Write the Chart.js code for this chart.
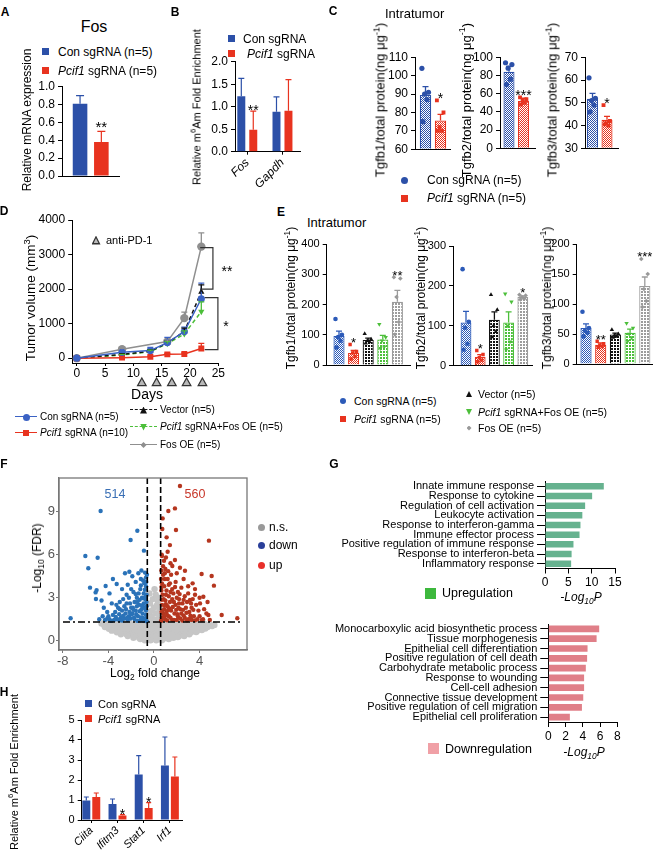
<!DOCTYPE html>
<html><head><meta charset="utf-8"><title>Figure</title>
<script src="https://cdn.jsdelivr.net/npm/chart.js@4.4.1/dist/chart.umd.min.js"></script>
<style>
html,body{margin:0;padding:0;background:#fff;overflow:hidden}
body{position:relative;width:653px;height:856px;font-family:"Liberation Sans",Arial,Helvetica,sans-serif}
canvas{position:absolute}
.t{position:absolute;white-space:nowrap;line-height:1;color:#000}
.s{position:absolute}
sup,sub{font-size:70%;line-height:0}
</style></head><body>
<script>
// ================= DATA =================
// A
const A_GROUPS = ['Con sgRNA (n=5)', 'Pcif1 sgRNA (n=5)'];
const A_GENE = ['Fos'];
const A_CON = [0.81], A_CON_SEM = [0.09];
const A_PCIF = [0.38], A_PCIF_SEM = [0.12];
const A_SIG = ['**'];
// B
const B_GENES = ['Fos', 'Gapdh'];
const B_CON = [1.23, 0.89], B_CON_SEM = [0.40, 0.33];
const B_PCIF = [0.49, 0.91], B_PCIF_SEM = [0.41, 0.69];
const B_SIG = ['**', ''];
// C
const C_GROUPS = ['Con sgRNA', 'Pcif1 sgRNA'];
const C1_MEAN = [89.5, 75.6], C1_SEM = [4.6, 3.4];
const C1_PTS = [[104, 91, 90, 87, 75], [86.6, 80, 72, 70, 70]];
const C1_SIG = ['', '*'];
const C2_MEAN = [84, 52], C2_SEM = [6, 3];
const C2_PTS = [[94, 92, 88, 76, 70], [56, 54, 52, 50, 48]];
const C2_SIG = ['', '***'];
const C3_MEAN = [51.8, 42.5], C3_SEM = [2.3, 1.5];
const C3_PTS = [[61, 52, 51, 49, 46], [49, 42, 41, 40, 40.5]];
const C3_SIG = ['', '*'];
// D
const D_DAYS = [0, 8, 13, 16, 19, 22];
const D_FOS_DAYS = [0, 8, 16, 19, 22];
const D_CON = [0, 170, 220, 450, 770, 1720], D_CON_SEM = [0, 30, 90, 150, 130, 450];
const D_PCIF = [0, 15, 40, 110, 120, 280], D_PCIF_SEM = [0, 5, 15, 25, 30, 150];
const D_VEC = [0, 110, 200, 440, 770, 1920], D_VEC_SEM = [0, 20, 40, 60, 100, 200];
const D_PFOS = [0, 90, 190, 420, 700, 1350], D_PFOS_SEM = [0, 20, 40, 60, 90, 280];
const D_FOS = [0, 260, 480, 1160, 3230], D_FOS_SEM = [0, 30, 40, 170, 400];
const PD1_DAYS = [11.5, 14.1, 16.8, 19.4, 22.2];
const D_XTICKS = [0, 5, 10, 15, 20, 25];
const D_YTICKS = [0, 1000, 2000, 3000, 4000];
const D_BRACKETS = [{from: 3200, to: 2000, label: '**'}, {from: 1750, to: 250, label: '*'}];
// E
const E_GROUPS = ['Con sgRNA (n=5)', 'Pcif1 sgRNA (n=5)', 'Vector (n=5)', 'Pcif1 sgRNA+Fos OE (n=5)', 'Fos OE (n=5)'];
const E1_MEAN = [96, 40, 83, 84, 209], E1_SEM = [16, 8, 6, 14, 38];
const E1_PTS = [[152, 100, 92, 80, 58], [68, 45, 40, 28, 20], [103, 85, 80, 76, 72], [135, 92, 80, 60, 55], [290, 286, 225, 142, 101]];
const E1_SIG = ['', '*', '', '', '**'];
const E2_MEAN = [108, 22, 115, 108, 172], E2_SEM = [28, 6, 20, 27, 3];
const E2_PTS = [[242, 110, 95, 55, 40], [38, 28, 20, 14, 10], [178, 140, 100, 85, 72], [180, 160, 100, 60, 40], [178, 176, 172, 168, 166]];
const E2_SIG = ['', '*', '', '', '*'];
const E3_MEAN = [60, 32, 49, 52, 130], E3_SEM = [7, 3, 2.5, 6, 15];
const E3_PTS = [[87, 60, 55, 52, 46], [38, 34, 31, 29, 28], [57, 50, 48, 46, 44], [68, 60, 50, 44, 38], [175, 150, 125, 105, 95]];
const E3_SIG = ['', '**', '', '', '***'];
// F (volcano; log2 fold change, -log10 FDR)
const F_COUNTS = [514, 560];
const F_FC_CUT = 0.585, F_P_CUT = 1.3;
const F_XTICKS = [-8, -4, 0, 4], F_YTICKS = [0, 3, 6, 9];
const F_UP = [[2.28,10.79],[1.26,9.05],[1.84,9.23],[0.76,8.53],[0.73,7.79],[1.93,7.72],[4.82,6.98],[1.11,7.21],[1.4,6.67],[0.7,5.91],[0.88,5.58],[1.84,5.63],[1.61,5.21],[2.28,5.09],[2.72,4.88],[4.18,4.65],[5.06,4.51],[5.26,3.84],[3.39,4.0],[4.33,3.07],[4.77,1.79],[5.94,1.79],[7.31,1.56],[4.04,2.6],[3.16,2.84],[0.65,4.9],[0.8,4.6],[1.0,5.0],[1.2,4.3],[1.5,4.6],[0.7,4.0],[0.9,3.8],[1.1,3.5],[1.3,3.9],[1.6,3.6],[1.9,4.1],[2.1,3.4],[2.4,3.7],[2.7,3.1],[3.0,3.3],[3.4,2.9],[3.7,2.5],[3.9,2.1],[4.4,2.2],[4.6,1.9],[3.5,1.7],[3.1,2.0],[2.8,2.3],[2.5,2.6],[2.2,2.9],[1.9,2.5],[1.6,2.9],[1.3,3.1],[1.0,2.8],[0.75,3.2],[0.7,2.5],[0.9,2.2],[1.2,2.4],[1.5,2.1],[1.8,1.9],[2.1,1.7],[2.4,1.9],[2.7,1.6],[3.0,1.5],[3.3,1.45],[3.8,1.5],[4.2,1.45],[0.7,1.6],[1.0,1.5],[1.3,1.7],[1.6,1.45],[2.0,1.45],[2.5,1.4],[0.8,1.9],[1.1,2.0],[2.9,2.7],[3.3,2.3],[0.65,3.5],[0.95,4.3],[1.4,4.0],[1.7,3.3],[2.0,3.0],[2.3,2.2],[0.85,2.9],[1.15,1.8],[3.6,3.2],[2.6,4.3],[0.68,6.0],[1.05,5.8],[1.2,6.2],[0.8,5.2],[1.45,5.4],[2.0,4.7],[3.0,3.8],[3.6,3.6],[4.0,3.0],[4.7,2.7],[3.2,1.75],[0.75,2.1],[1.05,2.55],[1.35,2.25],[1.75,2.7],[2.15,2.3],[0.68,1.45],
[0.62,1.38],[0.9,1.7],[1.15,1.42],[1.45,1.6],[1.75,1.45],[2.05,1.85],[2.3,1.55],[2.6,1.75],[2.9,1.42],[3.2,1.55],[3.6,1.42],[4.0,1.7],[4.3,1.5],[4.9,1.45],[0.66,2.0],[0.95,2.45],[1.25,2.15],[1.4,2.7],[1.65,2.35],[1.95,2.15],[2.2,2.6],[2.55,2.15],[2.85,1.95],[3.45,2.15],[0.7,2.85],[1.05,3.2],[1.45,3.4],[1.85,3.75],[2.25,3.25],[2.6,2.85],[3.25,2.6],[0.62,4.3],[0.95,4.7],[1.25,4.85],[0.66,3.75]];
const F_DOWN = [[-4.68,9.05],[-1.46,7.67],[-2.05,7.02],[-0.88,6.28],[-6.02,5.91],[-4.94,5.79],[-5.76,5.05],[-2.54,4.7],[-2.16,4.81],[-1.37,4.7],[-0.79,4.75],[-5.61,3.7],[-5.03,3.53],[-5.12,3.37],[-5.09,2.91],[-4.24,3.81],[-3.27,3.95],[-7.31,1.56],[-3.6,4.3],[-1.9,4.5],[-1.1,4.9],[-0.7,4.4],[-0.95,4.2],[-1.6,4.1],[-2.3,3.9],[-2.8,3.6],[-3.9,3.3],[-4.6,2.8],[-4.4,2.3],[-4.1,2.0],[-3.6,1.8],[-3.3,2.5],[-3.0,2.2],[-2.7,2.9],[-2.4,3.2],[-2.1,2.6],[-1.8,3.4],[-1.5,3.0],[-1.2,3.6],[-0.9,3.3],[-0.7,3.8],[-0.75,2.9],[-0.65,2.4],[-0.9,2.6],[-1.1,2.2],[-1.3,2.5],[-1.6,2.1],[-1.9,1.9],[-2.2,1.7],[-2.5,1.9],[-2.9,1.6],[-3.2,1.5],[-3.5,1.45],[-3.9,1.5],[-4.3,1.45],[-4.8,1.5],[-2.0,2.3],[-2.6,2.4],[-1.4,1.7],[-1.0,1.6],[-0.7,1.8],[-0.8,1.45],[-1.2,1.4],[-1.7,1.5],[-2.3,1.45],[-2.8,1.4],[-0.65,3.2],[-0.85,4.0],[-1.05,3.0],[-1.35,3.3],[-1.7,2.7],[-2.2,3.0],[-0.7,2.1],[-1.5,2.4],[-1.0,1.9],[-3.7,2.6],[-4.0,1.7],[-3.4,2.0],[-2.45,2.2],[-1.25,2.85],[-0.8,3.55],[-0.68,4.1],[-1.15,4.3],[-2.6,1.55],[-1.85,2.3],[-3.05,1.85],[-0.95,2.35],[-1.55,1.85],[-2.05,1.55],[-0.72,1.55],
[-0.62,1.35],[-0.9,1.38],[-1.15,1.62],[-1.45,1.38],[-1.75,1.62],[-2.0,1.85],[-2.35,1.6],[-2.7,1.75],[-3.0,1.42],[-3.35,1.65],[-3.75,1.38],[-4.1,1.55],[-4.5,1.7],[-0.78,2.25],[-1.05,2.45],[-1.25,2.05],[-1.45,2.7],[-1.8,2.15],[-2.15,2.0],[-2.4,2.6],[-2.8,2.1],[-3.15,2.3],[-0.66,2.7],[-0.9,2.95],[-1.6,3.25],[-2.0,3.6],[-0.75,3.05],[-1.15,3.85],[-0.62,4.6],[-3.0,2.7]];
const F_NS = [[-4.6,1.2],[-4.1,1.2],[-3.6,1.2],[-3.1,1.2],[-2.6,1.2],[-2.1,1.2],[-1.6,1.2],[-1.1,1.2],[-0.6,1.2],[-0.1,1.2],[0.4,1.2],[0.9,1.2],[1.4,1.2],[1.9,1.2],[2.4,1.2],[2.9,1.2],[3.4,1.2],[3.9,1.2],[4.4,1.2],[4.9,1.15],[5.3,1.1],
[-4.35,1.08],[-3.85,1.08],[-3.35,1.08],[-2.85,1.08],[-2.35,1.08],[-1.85,1.08],[-1.35,1.08],[-0.85,1.08],[-0.35,1.08],[0.15,1.08],[0.65,1.08],[1.15,1.08],[1.65,1.08],[2.15,1.08],[2.65,1.08],[3.15,1.08],[3.65,1.08],[4.15,1.08],[4.65,1.08],[5.1,1.02],
[-4.3,0.95],[-3.8,0.95],[-3.3,0.95],[-2.8,0.95],[-2.3,0.95],[-1.8,0.95],[-1.3,0.95],[-0.8,0.95],[-0.3,0.95],[0.2,0.95],[0.7,0.95],[1.2,0.95],[1.7,0.95],[2.2,0.95],[2.7,0.95],[3.2,0.95],[3.7,0.95],[4.2,0.95],[4.7,0.95],
[-3.95,0.83],[-3.45,0.83],[-2.95,0.83],[-2.45,0.83],[-1.95,0.83],[-1.45,0.83],[-0.95,0.83],[-0.45,0.83],[0.05,0.83],[0.55,0.83],[1.05,0.83],[1.55,0.83],[2.05,0.83],[2.55,0.83],[3.05,0.83],[3.55,0.83],[4.05,0.83],[4.5,0.85],
[-3.7,0.7],[-3.2,0.7],[-2.7,0.7],[-2.2,0.7],[-1.7,0.7],[-1.2,0.7],[-0.7,0.7],[-0.2,0.7],[0.3,0.7],[0.8,0.7],[1.3,0.7],[1.8,0.7],[2.3,0.7],[2.8,0.7],[3.3,0.7],[3.8,0.7],[4.2,0.75],
[-3.25,0.58],[-2.75,0.58],[-2.25,0.58],[-1.75,0.58],[-1.25,0.58],[-0.75,0.58],[-0.25,0.58],[0.25,0.58],[0.75,0.58],[1.25,0.58],[1.75,0.58],[2.25,0.58],[2.75,0.58],[3.25,0.58],[3.7,0.6],
[-2.9,0.45],[-2.4,0.45],[-1.9,0.45],[-1.4,0.45],[-0.9,0.45],[-0.4,0.45],[0.1,0.45],[0.6,0.45],[1.1,0.45],[1.6,0.45],[2.1,0.45],[2.6,0.45],[3.1,0.45],
[-2.3,0.33],[-1.8,0.33],[-1.3,0.33],[-0.8,0.33],[-0.3,0.33],[0.2,0.33],[0.7,0.33],[1.2,0.33],[1.7,0.33],[2.2,0.33],[2.65,0.33],
[-1.8,0.2],[-1.3,0.2],[-0.8,0.2],[-0.3,0.2],[0.2,0.2],[0.7,0.2],[1.2,0.2],[1.7,0.2],[2.1,0.25],
[-1.2,0.12],[-0.7,0.12],[-0.2,0.12],[0.3,0.12],[0.8,0.12],[1.3,0.12],
[-0.8,0.03],[-0.3,0.03],[0.2,0.03],[0.7,0.03],
[-0.5,1.5],[0.45,1.55],[-0.2,1.7],[0.2,1.9],[-0.45,2.0],[0.5,2.2],[0.0,2.3],[-0.35,2.6],[0.35,2.7],[-0.1,2.9],[0.15,3.2],[-0.4,3.3],[0.05,3.6],[0.4,3.0],[-0.55,1.8],[0.55,1.7],[-0.2,2.1],[0.25,2.45],[-0.3,1.4],[0.1,1.45]];
// G
const G_UP_TERMS = ['Innate immune response', 'Response to cytokine', 'Regulation of cell activation', 'Leukocyte activation', 'Response to interferon-gamma', 'Immune effector process', 'Positive regulation of immune response', 'Response to interferon-beta', 'Inflammatory response'];
const G_UP_VALS = [12.6, 10.1, 8.6, 8.0, 7.6, 7.4, 6.1, 5.7, 5.6];
const G_DOWN_TERMS = ['Monocarboxylic acid biosynthetic process', 'Tissue morphogenesis', 'Epithelial cell differentiation', 'Positive regulation of cell death', 'Carbohydrate metabolic process', 'Response to wounding', 'Cell-cell adhesion', 'Connective tissue development', 'Positive regulation of cell migration', 'Epithelial cell proliferation'];
const G_DOWN_VALS = [5.9, 5.6, 4.55, 4.5, 4.35, 4.15, 4.15, 4.05, 3.9, 2.5];
// H
const H_GENES = ['Ciita', 'Ifitm3', 'Stat1', 'Irf1'];
const H_CON = [0.97, 0.80, 2.28, 2.72], H_CON_SEM = [0.18, 0.25, 0.94, 1.43];
const H_PCIF = [1.15, 0.22, 0.60, 2.17], H_PCIF_SEM = [0.20, 0.05, 0.27, 0.98];
const H_SIG = ['', '*', '*', ''];

// ================= STYLE / HELPERS =================
const FONT = '"Liberation Sans", Arial, sans-serif';
const BLUE = '#2c50a8', RED = '#e8331f';
Chart.defaults.font.family = FONT;
Chart.defaults.color = '#000';
Chart.defaults.animation = false;
Chart.defaults.events = [];
Chart.defaults.plugins.legend.display = false;
Chart.defaults.plugins.tooltip.enabled = false;
const JIT = [-0.24, 0.2, -0.06, 0.1, -0.17];

Chart.register({
  id: 'catShift',
  afterLayout(chart, args, o) {
    if (!o || o.start === undefined) return;
    const s = chart.scales[o.axis || 'x'];
    s._startValue = o.start; s._valueRange = o.range;
  }
});
Chart.register({
  id: 'marks',
  afterDatasetsDraw(chart) {
    const ctx = chart.ctx;
    chart.data.datasets.forEach((ds, i) => {
      if (!ds.err && !ds.sig) return;
      const meta = chart.getDatasetMeta(i);
      const yS = chart.scales[meta.yAxisID];
      meta.data.forEach((el, j) => {
        const raw = ds.data[j];
        const v = (raw !== null && typeof raw === 'object') ? raw.y : raw;
        if (ds.err && ds.err[j]) {
          const top = yS.getPixelForValue(v + ds.err[j]);
          const col = Array.isArray(ds.errColor) ? ds.errColor[j] : (ds.errColor || '#000');
          ctx.save(); ctx.strokeStyle = col; ctx.lineWidth = ds.errWidth || 1.2; ctx.setLineDash([]);
          ctx.beginPath(); ctx.moveTo(el.x, el.y); ctx.lineTo(el.x, top);
          const cw = ds.capW || 3; ctx.moveTo(el.x - cw, top); ctx.lineTo(el.x + cw, top);
          ctx.stroke(); ctx.restore();
        }
        if (ds.sig && ds.sig[j]) {
          const sz = ds.sigSize || 14;
          const top = yS.getPixelForValue(ds.sigTop[j]);
          ctx.save(); ctx.fillStyle = '#000'; ctx.font = sz + 'px ' + FONT;
          ctx.textAlign = 'center'; ctx.textBaseline = 'alphabetic';
          ctx.fillText(ds.sig[j], el.x, top - (ds.sigGap ?? 2) + 0.42 * sz);
          ctx.restore();
        }
      });
    });
  }
});

function mk(cx, cy, cw, ch, L, T, R, B, cfg) {
  const cv = document.createElement('canvas');
  cv.width = cw; cv.height = ch;
  cv.style.left = cx + 'px'; cv.style.top = cy + 'px';
  cv.style.width = cw + 'px'; cv.style.height = ch + 'px';
  document.body.appendChild(cv);
  cfg.options = cfg.options || {};
  cfg.options.responsive = false;
  cfg.options.maintainAspectRatio = false;
  cfg.options.layout = {padding: {left: 0, top: T - cy, right: cx + cw - R, bottom: 0}};
  const sc = cfg.options.scales || {};
  for (const k in sc) {
    if (sc[k].display === false) continue;
    sc[k].afterFit = s => {
      if (s.isHorizontal()) s.height = cy + ch - B; else s.width = L - cx;
      s.paddingLeft = s.paddingRight = s.paddingTop = s.paddingBottom = 0;
    };
  }
  return new Chart(cv, cfg);
}
function yLin(min, max, step, size, cb) {
  const t = {stepSize: step, font: {size}, color: '#000', padding: 3};
  if (cb) t.callback = cb;
  return {min, max, ticks: t, grid: {display: true, drawOnChartArea: false, drawTicks: true, tickLength: 4, color: '#000', lineWidth: 1}, border: {color: '#000', width: 1}};
}
function xNone() { return {ticks: {display: false}, grid: {display: false}, border: {color: '#000', width: 1}}; }
function xLab(size) {
  return {ticks: {font: {size, style: 'italic'}, color: '#000', minRotation: 45, maxRotation: 45, autoSkip: false, padding: 1},
    grid: {display: true, drawOnChartArea: false, drawTicks: true, tickLength: 3, color: '#000', offset: false}, border: {color: '#000', width: 1}};
}
function pat(fg, kind) {
  const c = document.createElement('canvas');
  const n = kind === 'dot' ? 3 : 2;
  c.width = c.height = n;
  const x = c.getContext('2d');
  x.fillStyle = '#fff'; x.fillRect(0, 0, n, n);
  x.fillStyle = fg;
  if (kind === 'dot') { x.fillRect(0, 0, 2, 2); } else { x.fillRect(0, 0, 1, 1); x.fillRect(1, 1, 1, 1); }
  return x.createPattern(c, 'repeat');
}
// Bars + individual points share one linear index axis (group i sits at x = i)
function dotBar(rect, plot, labels, mean, sem, pts, colors, kinds, shapes, yMin, yMax, step, sig, c0, d, tick, dotR, sigSize) {
  const [cx, cy, cw, ch] = rect, [L, T, R, B] = plot;
  const start = -(c0 - L) / d, range = (R - L) / d;
  const dots = pts.map((arr, i) => ({
    type: 'scatter', xAxisID: 'x', yAxisID: 'y', label: labels[i],
    data: arr.map((v, k) => ({x: i + JIT[k % JIT.length], y: v})),
    pointStyle: shapes[i][0], rotation: shapes[i][1] || 0, pointRadius: dotR * (shapes[i][2] || 1),
    backgroundColor: shapes[i][3] || colors[i], borderColor: shapes[i][3] || colors[i], borderWidth: 0
  }));
  const bar = {
    type: 'bar', xAxisID: 'x', yAxisID: 'y', data: mean.map((m, i) => ({x: i, y: m})), base: yMin,
    backgroundColor: colors.map((c, i) => pat(c, kinds[i])), borderColor: colors, borderWidth: 1.2,
    barPercentage: 0.76, categoryPercentage: 1,
    err: sem, errColor: colors, capW: 3, errWidth: 1.3,
    sig, sigTop: mean.map((m, i) => Math.max(m + sem[i], ...pts[i])), sigSize: sigSize || 14, sigGap: 3
  };
  return mk(cx, cy, cw, ch, L, T, R, B, {
    type: 'bar',
    data: {datasets: [...dots, bar]},
    options: {
      scales: {
        x: {type: 'linear', offset: false, grace: 0, min: start, max: start + range,
          afterBuildTicks: s => { s.ticks = labels.map((_, i) => ({value: i})); },
          ticks: {display: false}, grid: {display: false}, border: {color: '#000', width: 1}},
        y: yLin(yMin, yMax, step, tick)
      }
    }
  });
}
function T(x, y, html, size, o) {
  o = o || {};
  const d = document.createElement('div');
  d.className = 't'; d.innerHTML = html;
  d.style.left = x + 'px'; d.style.top = y + 'px'; d.style.fontSize = size + 'px';
  d.style.transform = o.rot ? 'translate(-50%,-50%) rotate(-90deg)' : (o.center ? 'translate(-50%,-50%)' : 'translateY(-50%)');
  if (o.bold) d.style.fontWeight = 'bold';
  if (o.italic) d.style.fontStyle = 'italic';
  if (o.color) d.style.color = o.color;
  document.body.appendChild(d);
}
function S(x, y, kind, size, color) {
  const d = document.createElement('div');
  d.className = 's';
  d.style.left = (x - size / 2) + 'px'; d.style.top = (y - size / 2) + 'px';
  d.style.width = size + 'px'; d.style.height = size + 'px'; d.style.background = color;
  if (kind === 'circle') d.style.borderRadius = '50%';
  if (kind === 'tri') d.style.clipPath = 'polygon(50% 0,100% 100%,0 100%)';
  if (kind === 'dtri') d.style.clipPath = 'polygon(0 0,100% 0,50% 100%)';
  if (kind === 'diamond') d.style.clipPath = 'polygon(50% 0,100% 50%,50% 100%,0 50%)';
  document.body.appendChild(d);
}
function Ln(x1, x2, y, color, dashed) {
  const d = document.createElement('div');
  d.className = 's';
  d.style.left = x1 + 'px'; d.style.top = (y - 0.75) + 'px'; d.style.width = (x2 - x1) + 'px';
  d.style.borderTop = '1.5px ' + (dashed ? 'dashed ' : 'solid ') + color;
  document.body.appendChild(d);
}

// ================= PANEL A =================
mk(20, 76, 110, 120, 62, 86.7, 119.4, 176, {
  type: 'bar',
  data: {labels: A_GENE, datasets: [
    {label: A_GROUPS[0], data: A_CON, backgroundColor: BLUE, err: A_CON_SEM, errColor: BLUE, capW: 4, barPercentage: 0.685, categoryPercentage: 0.742},
    {label: A_GROUPS[1], data: A_PCIF, backgroundColor: RED, err: A_PCIF_SEM, errColor: RED, capW: 4, barPercentage: 0.685, categoryPercentage: 0.742,
     sig: A_SIG, sigTop: A_PCIF.map((v, i) => v + A_PCIF_SEM[i]), sigSize: 15, sigGap: 6}
  ]},
  options: {scales: {x: xNone(), y: yLin(0, 1, 0.2, 12, v => v.toFixed(1))}}
});
T(5, 12, 'A', 12, {bold: true, center: true});
T(94, 27, 'Fos', 16, {center: true});
S(45.5, 51.5, 'square', 7, BLUE); T(58, 52, A_GROUPS[0], 12);
S(45.5, 70.5, 'square', 7, RED); T(58, 71, '<i>Pcif1</i> sgRNA (n=5)', 12);
T(27, 120, 'Relative mRNA expression', 12, {rot: true});

// ================= PANEL B =================
mk(200, 50, 110, 140, 235, 61.7, 300, 151.7, {
  type: 'bar',
  data: {labels: B_GENES, datasets: [
    {data: B_CON, backgroundColor: BLUE, err: B_CON_SEM, errColor: BLUE, capW: 3, barPercentage: 0.667, categoryPercentage: 0.68},
    {data: B_PCIF, backgroundColor: RED, err: B_PCIF_SEM, errColor: RED, capW: 3, barPercentage: 0.667, categoryPercentage: 0.68,
     sig: B_SIG, sigTop: B_PCIF.map((v, i) => v + B_PCIF_SEM[i]), sigSize: 14, sigGap: 2}
  ]},
  options: {scales: {x: xLab(12), y: yLin(0, 2, 0.5, 12, v => v.toFixed(1))}, plugins: {catShift: {start: -0.349, range: 1.847}}}
});
T(175, 12, 'B', 12, {bold: true, center: true});
S(231.5, 38.5, 'square', 7, BLUE); T(243, 38.5, 'Con sgRNA', 12);
S(231.5, 53.5, 'square', 7, RED); T(247, 53.5, '<i>Pcif1</i> sgRNA', 12);
T(197, 107, 'Relative m<sup>6</sup>Am Fold Enrichment', 11, {rot: true});

// ================= PANEL C =================
const C_COLORS = [BLUE, RED];
const C_KINDS = ['chk', 'chk'];
const C_SHAPES = [['circle', 0, 1], ['rect', 0, 1.05]];
dotBar([383, 47, 75, 112], [415, 57.3, 450, 149.3], C_GROUPS, C1_MEAN, C1_SEM, C1_PTS, C_COLORS, C_KINDS, C_SHAPES, 60, 110, 10, C1_SIG, 425.5, 15, 12, 2.6);
dotBar([468, 47, 73, 112], [500, 57.3, 535, 148.3], C_GROUPS, C2_MEAN, C2_SEM, C2_PTS, C_COLORS, C_KINDS, C_SHAPES, 0, 100, 20, C2_SIG, 509, 14.5, 12, 2.6);
dotBar([555, 47, 70, 112], [585, 57.3, 618, 148.3], C_GROUPS, C3_MEAN, C3_SEM, C3_PTS, C_COLORS, C_KINDS, C_SHAPES, 30, 70, 10, C3_SIG, 592.5, 14.5, 12, 2.6);
T(333, 11, 'C', 12, {bold: true, center: true});
T(385, 13, 'Intratumor', 13);
T(380, 100, 'Tgfb1/total protein(ng μg<sup>-1</sup>)', 13, {rot: true});
T(466, 100, 'Tgfb2/total protein(ng μg<sup>-1</sup>)', 13, {rot: true});
T(552, 100, 'Tgfb3/total protein(ng μg<sup>-1</sup>)', 13, {rot: true});
S(404, 180, 'circle', 7, BLUE); T(427, 180, 'Con sgRNA (n=5)', 12);
S(404, 198, 'square', 7, RED); T(427, 198, '<i>Pcif1</i> sgRNA (n=5)', 12);

// ================= PANEL D =================
const D_SERIES = [
  {days: D_DAYS, v: D_CON, e: D_CON_SEM, color: '#3b62c4', style: 'circle', r: 3.6, dash: []},
  {days: D_DAYS, v: D_PCIF, e: D_PCIF_SEM, color: RED, style: 'rect', r: 4.2, dash: []},
  {days: D_DAYS, v: D_VEC, e: D_VEC_SEM, color: '#111111', style: 'triangle', r: 3.6, dash: [4, 3]},
  {days: D_DAYS, v: D_PFOS, e: D_PFOS_SEM, color: '#4cbf3a', style: 'triangle', rot: 180, r: 3.6, dash: [4, 3]},
  {days: D_FOS_DAYS, v: D_FOS, e: D_FOS_SEM, color: '#8f8f8f', style: 'circle', r: 4.2, dash: []}
];
const dAnno = {
  id: 'dAnno',
  afterDraw(chart, args, o) {
    const {ctx, scales: {x: xs, y: ys}, chartArea: a} = chart;
    ctx.save();
    PD1_DAYS.forEach(dd => {
      const x = xs.getPixelForValue(dd), y = a.bottom + 19;
      ctx.beginPath(); ctx.moveTo(x, y - 4); ctx.lineTo(x + 4.3, y + 3.6); ctx.lineTo(x - 4.3, y + 3.6); ctx.closePath();
      ctx.fillStyle = '#b8b8b8'; ctx.fill(); ctx.strokeStyle = '#333'; ctx.lineWidth = 1.2; ctx.stroke();
    });
    D_BRACKETS.forEach((b, i) => {
      const pos = o.pos[i];
      const bx = xs.getPixelForValue(pos[0]), bx0 = xs.getPixelForValue(pos[1]);
      const y1 = ys.getPixelForValue(b.from), y2 = ys.getPixelForValue(b.to);
      ctx.beginPath(); ctx.moveTo(bx0, y1); ctx.lineTo(bx, y1); ctx.lineTo(bx, y2); ctx.lineTo(bx0, y2);
      ctx.strokeStyle = '#333'; ctx.lineWidth = 1.2; ctx.stroke();
      ctx.fillStyle = '#000'; ctx.font = '14px ' + FONT; ctx.textAlign = 'center'; ctx.textBaseline = 'middle';
      ctx.fillText(b.label, bx + pos[2], (y1 + y2) / 2 + 4);
    });
    ctx.restore();
  }
};
mk(30, 210, 206, 178, 72.2, 220, 218.3, 363, {
  type: 'line',
  data: {datasets: D_SERIES.map(s => ({
    data: s.days.map((dd, i) => ({x: dd, y: s.v[i]})),
    borderColor: s.color, backgroundColor: s.color, borderWidth: 1.5, borderDash: s.dash,
    pointStyle: s.style, rotation: s.rot || 0, pointRadius: s.r, pointBorderWidth: 0,
    err: s.e, errColor: s.color, capW: 3, errWidth: 1.3
  }))},
  options: {
    scales: {
      x: {type: 'linear', min: -0.8, max: 25, afterBuildTicks: s => { s.ticks = D_XTICKS.map(v => ({value: v})); },
        ticks: {font: {size: 12}, color: '#000', padding: 0, callback: v => String(v)},
        grid: {drawOnChartArea: false, tickLength: 3, color: '#000'}, border: {color: '#000', width: 1}},
      y: {min: -140, max: 4000, afterBuildTicks: s => { s.ticks = D_YTICKS.map(v => ({value: v})); },
        ticks: {font: {size: 12}, color: '#000', padding: 3, callback: v => String(v)},
        grid: {drawOnChartArea: false, tickLength: 4, color: '#000'}, border: {color: '#000', width: 1}}
    },
    plugins: {dAnno: {pos: [[24.05, 21.8, 14], [24.93, 22.6, 8]]}}
  },
  plugins: [dAnno]
});
T(4, 211, 'D', 12, {bold: true, center: true});
T(31, 298, 'Tumor volume (mm<sup>3</sup>)', 13.5, {rot: true});
T(147, 394, 'Days', 14, {center: true});
S(96, 240, 'tri', 9, '#333'); S(96, 240.8, 'tri', 5, '#bbb');
T(106, 240, 'anti-PD-1', 11);
Ln(15, 37, 417, '#3b62c4', false); S(26, 417, 'circle', 7, '#3b62c4'); T(40, 417, 'Con sgRNA (n=5)', 10);
Ln(15, 37, 433, RED, false); S(26, 433, 'square', 6.5, RED); T(40, 433, '<i>Pcif1</i> sgRNA (n=10)', 10);
Ln(130, 157, 410, '#111', true); S(143.5, 410, 'tri', 7, '#111'); T(160, 410, 'Vector (n=5)', 10);
Ln(130, 157, 427, '#4cbf3a', true); S(143.5, 427, 'dtri', 7, '#4cbf3a'); T(160, 427, '<i>Pcif1</i> sgRNA+Fos OE (n=5)', 10);
Ln(130, 157, 445, '#8f8f8f', false); S(143.5, 445, 'diamond', 6, '#8f8f8f'); T(160, 445, 'Fos OE (n=5)', 10);

// ================= PANEL E =================
const E_COLORS = ['#2c5ab8', RED, '#111111', '#4cbf3a', '#9c9c9c'];
const E_KINDS = ['chk', 'chk', 'dot', 'dot', 'dot'];
const E_SHAPES = [['circle', 0, 1], ['rect', 0, 1.05], ['triangle', 0, 1.1], ['triangle', 180, 1.1], ['rectRot', 0, 1, '#999']];
dotBar([296, 234, 122, 142], [326.7, 244, 410, 365], E_GROUPS, E1_MEAN, E1_SEM, E1_PTS, E_COLORS, E_KINDS, E_SHAPES, 0, 400, 100, E1_SIG, 339, 14.6, 11, 2.3, 13);
dotBar([424, 236, 116, 142], [453, 246, 532, 365.7], E_GROUPS, E2_MEAN, E2_SEM, E2_PTS, E_COLORS, E_KINDS, E_SHAPES, 0, 300, 100, E2_SIG, 466, 14.2, 11, 2.3, 13);
dotBar([548, 234, 112, 142], [576.7, 244, 652, 364], E_GROUPS, E3_MEAN, E3_SEM, E3_PTS, E_COLORS, E_KINDS, E_SHAPES, 0, 200, 50, E3_SIG, 586, 14.7, 11, 2.3, 13);
T(281, 212, 'E', 12, {bold: true, center: true});
T(307, 222, 'Intratumor', 13);
T(291, 298, 'Tgfb1/total protein(ng μg<sup>-1</sup>)', 12, {rot: true});
T(421, 298, 'Tgfb2/total protein(ng μg<sup>-1</sup>)', 12, {rot: true});
T(547, 298, 'Tgfb3/total protein(ng μg<sup>-1</sup>)', 12, {rot: true});
S(343, 401, 'circle', 6, E_COLORS[0]); T(354, 401, 'Con sgRNA (n=5)', 10.5);
S(343, 419, 'square', 6, E_COLORS[1]); T(354, 419, '<i>Pcif1</i> sgRNA (n=5)', 10.5);
S(469, 394, 'tri', 6, E_COLORS[2]); T(478, 394, 'Vector (n=5)', 10.5);
S(469, 412, 'dtri', 6, E_COLORS[3]); T(478, 412, '<i>Pcif1</i> sgRNA+Fos OE (n=5)', 10.5);
S(469, 428, 'diamond', 5, '#999'); T(478, 428, 'Fos OE (n=5)', 10.5);

// ================= PANEL F =================
const fFrame = {
  id: 'fFrame',
  afterDatasetsDraw(chart, args, o) {
    const {ctx, chartArea: a, scales: {x, y}} = chart;
    ctx.save();
    ctx.strokeStyle = '#000'; ctx.lineWidth = 1.6;
    ctx.setLineDash([6, 3]);
    [-o.fc, o.fc].forEach(v => { const px = x.getPixelForValue(v); ctx.beginPath(); ctx.moveTo(px, a.top); ctx.lineTo(px, a.bottom); ctx.stroke(); });
    ctx.setLineDash([7, 3, 2, 3]);
    const py = y.getPixelForValue(o.p);
    ctx.beginPath(); ctx.moveTo(a.left + 4, py); ctx.lineTo(a.right - 4, py); ctx.stroke();
    ctx.setLineDash([]); ctx.strokeStyle = '#777'; ctx.lineWidth = 1.3;
    ctx.strokeRect(a.left, a.top, a.width, a.height);
    ctx.restore();
  }
};
const fAxis = (min, max, ticksArr) => ({type: 'linear', min, max,
  afterBuildTicks: s => { s.ticks = ticksArr.map(v => ({value: v})); },
  ticks: {font: {size: 13}, color: '#555', padding: 1, callback: v => String(v)},
  grid: {drawOnChartArea: false, tickLength: 3, color: '#777'}, border: {color: '#777', width: 1.3}});
mk(10, 468, 245, 207, 59, 478, 247, 650, {
  type: 'scatter',
  data: {datasets: [
    {data: F_UP.map(p => ({x: p[0], y: p[1]})), backgroundColor: '#b5361f', pointRadius: 2.2, borderWidth: 0},
    {data: F_DOWN.map(p => ({x: p[0], y: p[1]})), backgroundColor: '#2a72b8', pointRadius: 2.2, borderWidth: 0},
    {data: F_NS.map(p => ({x: p[0], y: p[1]})), backgroundColor: '#c6c6c6', pointRadius: 3.2, borderWidth: 0}
  ]},
  options: {scales: {x: fAxis(-8.33, 8.16, F_XTICKS), y: fAxis(-0.65, 11.35, F_YTICKS)}, plugins: {fFrame: {fc: F_FC_CUT, p: F_P_CUT}}},
  plugins: [fFrame]
});
T(4, 464, 'F', 12, {bold: true, center: true});
T(115, 494, String(F_COUNTS[0]), 12.5, {center: true, color: '#3a6fb5'});
T(195, 494, String(F_COUNTS[1]), 12.5, {center: true, color: '#c8372a'});
T(37, 558, '-Log<sub>10</sub> (FDR)', 12, {rot: true});
T(155, 673, 'Log<sub>2</sub> fold change', 12, {center: true});
S(261, 527, 'circle', 7, '#999'); T(269, 527, 'n.s.', 12);
S(261, 545, 'circle', 7, '#2a3f9a'); T(269, 545, 'down', 12);
S(261, 565, 'circle', 7, '#e8302a'); T(269, 565, 'up', 12);

// ================= PANEL G =================
function gChart(cx, cy, cw, ch, L, Tp, R, B, terms, vals, color, max, step) {
  return mk(cx, cy, cw, ch, L, Tp, R, B, {
    type: 'bar',
    data: {labels: terms, datasets: [{data: vals, backgroundColor: color, barPercentage: 0.68, categoryPercentage: 1}]},
    options: {indexAxis: 'y', scales: {
      y: {ticks: {font: {size: 11}, color: '#000', padding: 3, autoSkip: false}, grid: {display: true, drawOnChartArea: false, drawTicks: true, tickLength: 8, color: '#000', offset: false}, border: {color: '#000', width: 1}},
      x: {min: 0, max, ticks: {stepSize: step, font: {size: 12}, color: '#000', padding: 2}, grid: {drawOnChartArea: false, tickLength: 5, color: '#000'}, border: {color: '#000', width: 1}}
    }}
  });
}
gChart(330, 474, 295, 126, 545, 481.5, 615, 568.5, G_UP_TERMS, G_UP_VALS, '#66b28f', 15, 5);
gChart(330, 616, 297, 130, 548.3, 624, 617.3, 722, G_DOWN_TERMS, G_DOWN_VALS, '#e07f88', 8, 2);
T(334, 464, 'G', 12, {bold: true, center: true});
S(430.5, 593, 'square', 11, '#3db83d'); T(442, 593, 'Upregulation', 12.5);
T(581, 597, '<i>-Log<sub>10</sub>P</i>', 12, {center: true});
S(433, 748.5, 'square', 11, '#f0a0a6'); T(445, 749, 'Downregulation', 12.5);
T(584, 752, '<i>-Log<sub>10</sub>P</i>', 12, {center: true});

// ================= PANEL H =================
mk(45, 710, 145, 146, 81.7, 720, 182, 820, {
  type: 'bar',
  data: {labels: H_GENES, datasets: [
    {data: H_CON, backgroundColor: BLUE, err: H_CON_SEM, errColor: BLUE, capW: 2.5, barPercentage: 0.8, categoryPercentage: 0.76},
    {data: H_PCIF, backgroundColor: RED, err: H_PCIF_SEM, errColor: RED, capW: 2.5, barPercentage: 0.8, categoryPercentage: 0.76,
     sig: H_SIG, sigTop: H_PCIF.map((v, i) => v + H_PCIF_SEM[i]), sigSize: 14, sigGap: 1}
  ]},
  options: {scales: {x: xLab(11), y: yLin(0, 5, 1, 11)}, plugins: {catShift: {start: -0.366, range: 3.828}}}
});
T(4, 692, 'H', 12, {bold: true, center: true});
S(88.5, 703.5, 'square', 7, BLUE); T(98, 703.5, 'Con sgRNA', 11);
S(88.5, 718.5, 'square', 7, RED); T(98, 718.5, '<i>Pcif1</i> sgRNA', 11);
T(14, 772, 'Relative m<sup>6</sup>Am Fold Enrichment', 11, {rot: true});
</script>
</body></html>
